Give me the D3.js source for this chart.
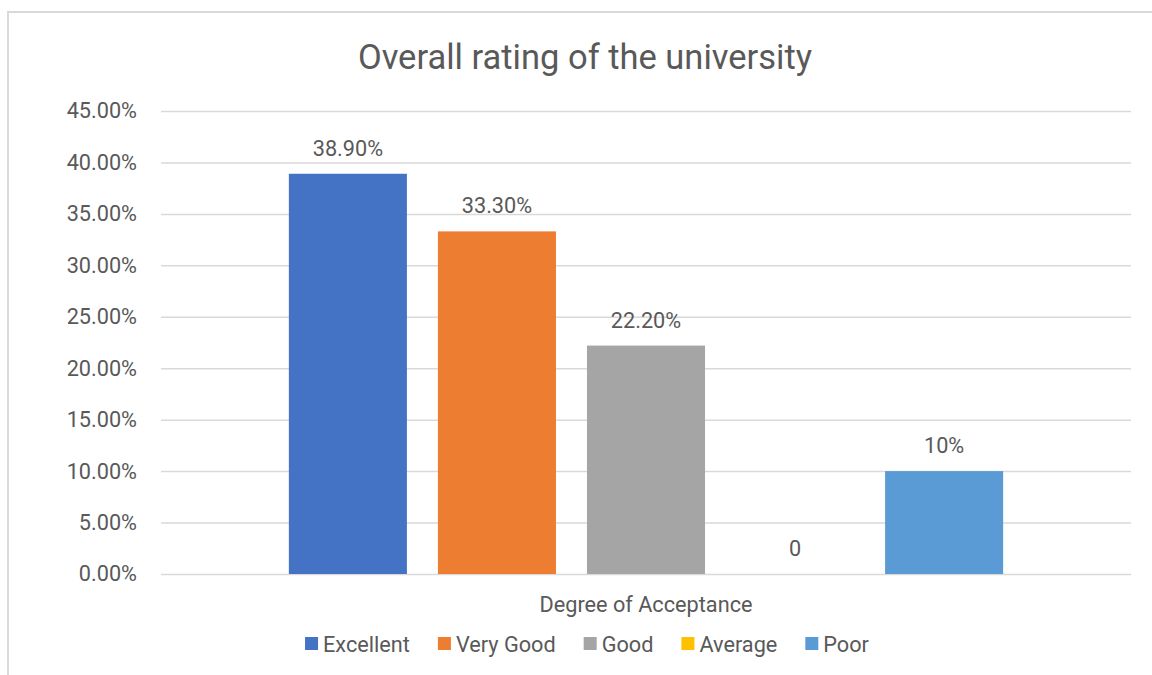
<!DOCTYPE html>
<html>
<head>
<meta charset="utf-8">
<script src="https://cdn.jsdelivr.net/npm/d3@7"></script>
<style>
  body { margin: 0; background: #fff; }
  text { font-family: Roboto, "Noto Sans", sans-serif; fill: #595959; }
</style>
</head>
<body>
<div id="chart"></div>
<script>
// Chart data
var categories = ["Degree of Acceptance"];
var seriesNames = ["Excellent", "Very Good", "Good", "Average", "Poor"];
var seriesValues = [0.389, 0.333, 0.222, 0, 0.10];
var valueLabels = ["38.90%", "33.30%", "22.20%", "0", "10%"];
var seriesColors = ["#4472C4", "#ED7D31", "#A5A5A5", "#FFC000", "#5B9BD5"];
var yTicks = [0, 0.05, 0.10, 0.15, 0.20, 0.25, 0.30, 0.35, 0.40, 0.45];

var W = 1152, H = 675;
var margin = {top: 111, right: 21, bottom: 101, left: 161},
    width = W - margin.left - margin.right,
    height = H - margin.top - margin.bottom;

var svg = d3.select("#chart")
  .append("svg")
    .attr("width", W)
    .attr("height", H);

// Chart area border (runs off the right and bottom of the picture)
svg.append("rect")
    .attr("x", 8)
    .attr("y", 12)
    .attr("width", 1160)
    .attr("height", 680)
    .attr("fill", "none")
    .attr("stroke", "#d9d9d9")
    .attr("stroke-width", 2);

// Title
svg.append("text")
    .attr("x", 585)
    .attr("y", 69)
    .attr("text-anchor", "middle")
    .style("font-size", "34.5px")
    .text("Overall rating of the university");

var g = svg.append("g")
    .attr("transform", "translate(" + margin.left + "," + margin.top + ")");

// Scales
var y = d3.scaleLinear()
    .domain([0, 0.45])
    .range([height, 0]);

var x0 = d3.scaleBand()
    .domain(categories)
    .range([0, width])
    .paddingInner(0)
    .paddingOuter(0.179);

var x1 = d3.scaleBand()
    .domain(seriesNames)
    .range([0, x0.bandwidth()])
    .paddingInner(0.208)
    .paddingOuter(0);

// Gridlines and y labels
var yAxis = g.append("g")
    .attr("class", "y-axis")
    .call(d3.axisLeft(y)
        .tickValues(yTicks)
        .tickSize(-width)
        .tickPadding(24)
        .tickFormat(d3.format(".2%")));

yAxis.select(".domain").remove();
yAxis.selectAll(".tick line")
    .attr("stroke", "#d9d9d9")
    .attr("stroke-width", 1.5);
yAxis.selectAll(".tick text")
    .attr("fill", "#595959")
    .style("font-size", "21.7px")
    .style("font-family", "Roboto, sans-serif");

// Bars
var group = g.selectAll(".group")
    .data(categories)
    .enter()
    .append("g")
    .attr("class", "group")
    .attr("transform", function(d) { return "translate(" + x0(d) + ",0)"; });

var rows = seriesNames.map(function(name, i) {
    return {name: name, value: seriesValues[i], label: valueLabels[i], color: seriesColors[i]};
});

group.selectAll("rect")
    .data(rows)
    .enter()
    .append("rect")
    .attr("x", function(d) { return x1(d.name); })
    .attr("y", function(d) { return y(d.value); })
    .attr("width", x1.bandwidth())
    .attr("height", function(d) { return height - y(d.value); })
    .attr("fill", function(d) { return d.color; });

// Data labels
group.selectAll(".label")
    .data(rows)
    .enter()
    .append("text")
    .attr("class", "label")
    .attr("x", function(d) { return x1(d.name) + x1.bandwidth() / 2; })
    .attr("y", function(d) { return y(d.value) - 18; })
    .attr("text-anchor", "middle")
    .style("font-size", "21.7px")
    .text(function(d) { return d.label; });

// Category axis label
g.selectAll(".cat")
    .data(categories)
    .enter()
    .append("text")
    .attr("class", "cat")
    .attr("x", function(d) { return x0(d) + x0.bandwidth() / 2; })
    .attr("y", height + 38)
    .attr("text-anchor", "middle")
    .style("font-size", "21.7px")
    .text(function(d) { return d; });

// Legend, laid out from the measured text widths
var legend = svg.append("g").attr("class", "legend");
var items = legend.selectAll("g")
    .data(rows)
    .enter()
    .append("g");

items.append("rect")
    .attr("width", 13)
    .attr("height", 13)
    .attr("y", 637)
    .attr("fill", function(d) { return d.color; });

items.append("text")
    .attr("x", 18)
    .attr("y", 652)
    .style("font-size", "21.7px")
    .text(function(d) { return d.name; });

var offset = 0;
var positions = [];
items.each(function(d) {
    var w = d3.select(this).select("text").node().getComputedTextLength();
    positions.push(offset);
    offset += 18 + w + 28;
});
var total = offset - 28;
var startX = 587 - total / 2;
items.attr("transform", function(d, i) { return "translate(" + (startX + positions[i]) + ",0)"; });
</script>
</body>
</html>
